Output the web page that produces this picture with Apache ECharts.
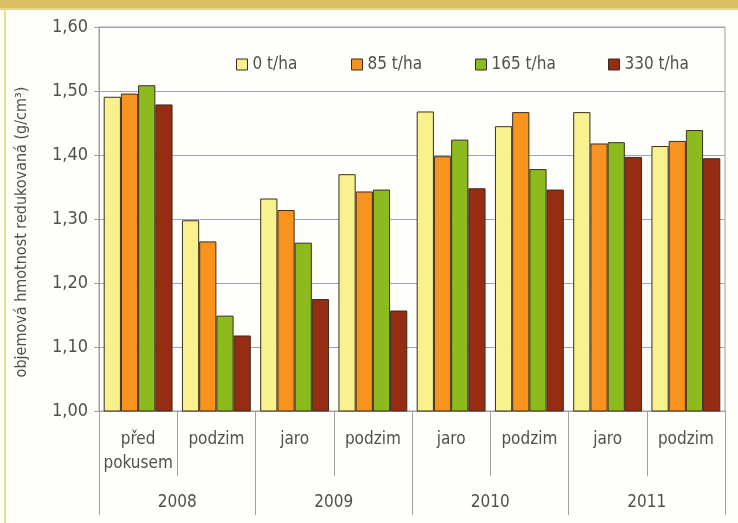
<!DOCTYPE html>
<html>
<head>
<meta charset="utf-8">
<script src="https://cdn.jsdelivr.net/npm/echarts@6/dist/echarts.min.js"></script>
<style>
  html, body { margin: 0; padding: 0; background: #fefefb; }
  #chart { width: 738px; height: 523px; }
</style>
</head>
<body>
<div id="chart"></div>
<script>
// Sampling periods (lower axis level) and years (upper axis level)
const periods = ['před\npokusem', 'podzim', 'jaro', 'podzim', 'jaro', 'podzim', 'jaro', 'podzim'];
const years = ['2008', '2009', '2010', '2011'];

// Reduced bulk density (g/cm³) per compost dose
const dose0   = [1.491, 1.298, 1.332, 1.370, 1.468, 1.445, 1.467, 1.414];
const dose85  = [1.496, 1.265, 1.314, 1.343, 1.398, 1.467, 1.418, 1.422];
const dose165 = [1.509, 1.149, 1.263, 1.346, 1.424, 1.378, 1.420, 1.439];
const dose330 = [1.479, 1.118, 1.175, 1.157, 1.348, 1.346, 1.397, 1.395];

const seriesNames = ['0 t/ha', '85 t/ha', '165 t/ha', '330 t/ha'];
const seriesData = [dose0, dose85, dose165, dose330];
const colors = ['#f8f18e', '#f7931e', '#8dbb1e', '#962d12'];

const yTicks = { min: 1.0, max: 1.6, step: 0.1 };

const FONT = "'Liberation Sans Narrow', 'DejaVu Sans Condensed', 'Noto Sans', sans-serif";
const TEXT = '#505050';
const GRID_LINE = '#a3a3b8';
const AXIS_LINE = '#a0a0a0';

const chart = echarts.init(document.getElementById('chart'), null, { renderer: 'canvas' });

const legendLeft = [236, 351, 475, 608];

const option = {
  backgroundColor: '#fefefb',
  animation: false,
  textStyle: { fontFamily: FONT },
  graphic: [
    { type: 'rect', shape: { x: 0, y: 0, width: 738, height: 10 }, style: { fill: '#dcc064' }, silent: true },
    { type: 'rect', shape: { x: 0, y: 8, width: 738, height: 2 }, style: { fill: '#e9d58c' }, silent: true },
    { type: 'rect', shape: { x: 4, y: 10, width: 2, height: 513 }, style: { fill: '#ecdc8c' }, silent: true }
  ],
  legend: seriesNames.map((name, i) => ({
    data: [name],
    left: legendLeft[i],
    top: 56,
    icon: 'rect',
    itemWidth: 11,
    itemHeight: 11,
    itemGap: 0,
    padding: 0,
    itemStyle: { borderColor: '#3a2e22', borderWidth: 1 },
    textStyle: { fontFamily: FONT, fontSize: 17, color: TEXT }
  })),
  grid: {
    left: 99, right: 13, top: 27, bottom: 112,
    show: true, borderColor: AXIS_LINE, borderWidth: 1, backgroundColor: 'transparent'
  },
  xAxis: [
    {
      type: 'category',
      data: periods,
      position: 'bottom',
      axisLine: { show: true, lineStyle: { color: AXIS_LINE, width: 1 } },
      axisTick: { show: true, interval: 0, length: 65, lineStyle: { color: AXIS_LINE } },
      axisLabel: {
        interval: 0, margin: 17, fontFamily: FONT, fontSize: 17, color: TEXT, lineHeight: 24
      },
      splitLine: { show: false }
    },
    {
      type: 'category',
      data: years,
      position: 'bottom',
      axisLine: { show: false },
      axisTick: { show: true, interval: 0, length: 104, lineStyle: { color: AXIS_LINE } },
      axisLabel: {
        interval: 0, margin: 80, fontFamily: FONT, fontSize: 17, color: TEXT, lineHeight: 24
      },
      splitLine: { show: false }
    }
  ],
  yAxis: {
    type: 'value',
    min: yTicks.min,
    max: yTicks.max,
    interval: yTicks.step,
    name: 'objemová hmotnost redukovaná (g/cm³)',
    nameLocation: 'middle',
    nameGap: 69,
    nameRotate: 90,
    nameTextStyle: { fontFamily: FONT, fontSize: 16, color: TEXT, padding: [0, 0, 0, -26] },
    axisLine: { show: true, lineStyle: { color: AXIS_LINE, width: 1 } },
    axisTick: { show: true, length: 5, lineStyle: { color: AXIS_LINE } },
    axisLabel: {
      fontFamily: FONT, fontSize: 18, color: TEXT, margin: 11,
      formatter: v => v.toFixed(2).replace('.', ',')
    },
    splitLine: { show: true, lineStyle: { color: GRID_LINE, width: 1 } }
  },
  series: seriesNames.map((name, i) => ({
    name: name,
    type: 'bar',
    xAxisIndex: 0,
    data: seriesData[i],
    barGap: '0%',
    barCategoryGap: '12%',
    itemStyle: { color: colors[i], borderColor: '#3a2e22', borderWidth: 1 }
  }))
};

chart.setOption(option);
</script>
</body>
</html>
